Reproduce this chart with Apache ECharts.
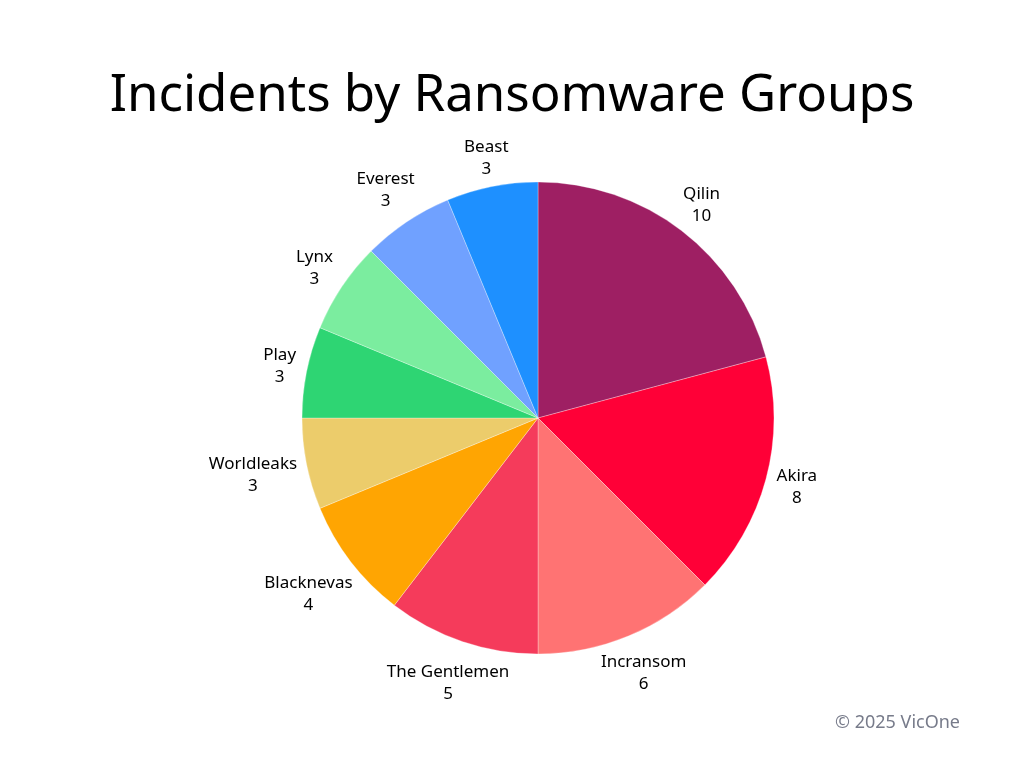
<!DOCTYPE html>
<html>
<head>
<meta charset="utf-8">
<title>Incidents by Ransomware Groups</title>
<script src="https://cdn.jsdelivr.net/npm/echarts@6/dist/echarts.min.js"></script>
<style>
  html, body { margin: 0; background: #fff; }
  #chart { width: 1024px; height: 768px; }
</style>
</head>
<body>
<div id="chart"></div>
<script>
// data
const groups = ['Qilin', 'Akira', 'Incransom', 'The Gentlemen', 'Blacknevas', 'Worldleaks', 'Play', 'Lynx', 'Everest', 'Beast'];
const incidents = [10, 8, 6, 5, 4, 3, 3, 3, 3, 3];
const colors = ['#9E1F63', '#FF0037', '#FF7373', '#F53B5B', '#FFA502', '#ECCC6B', '#2ED573', '#7BED9F', '#70A1FF', '#1E90FF'];

const FONT = '"Noto Sans", sans-serif';
const RADIUS = 236;
const LABEL_GAP = 8;   // gap between slice edge and label box
const FONT_SIZE = 17;
const LINE_H = 22;

// measure label boxes so each one sits just outside its slice (like an "end" anchored label)
const ctx = document.createElement('canvas').getContext('2d');
ctx.font = FONT_SIZE + 'px ' + FONT;
const total = incidents.reduce((a, b) => a + b, 0);

let acc = 0;
const pieData = groups.map((name, i) => {
  const mid = (acc + incidents[i] / 2) / total * Math.PI * 2;
  acc += incidents[i];
  const dx = Math.sin(mid), dy = -Math.cos(mid);
  const w = Math.max(ctx.measureText(name).width, ctx.measureText(String(incidents[i])).width);
  const h = FONT_SIZE * 2;   // glyph box of the two lines
  const dist = RADIUS + LABEL_GAP + (w / 2) * Math.abs(dx) + (h / 2) * Math.abs(dy);
  return {
    name: name,
    value: incidents[i],
    itemStyle: { color: colors[i] },
    label: { offset: [dx * dist, dy * dist] }
  };
});

const chart = echarts.init(document.getElementById('chart'));
chart.setOption({
  animation: false,
  title: [{
    text: 'Incidents by Ransomware Groups',
    left: 'center',
    top: 66,
    textStyle: { fontFamily: FONT, fontSize: 51, fontWeight: 'normal', color: '#000' }
  }, {
    text: '© 2025 VicOne',
    right: 59,
    top: 709,
    textStyle: { fontFamily: FONT, fontSize: 18, fontWeight: 'normal', color: '#777b8a' }
  }],
  series: [{
    type: 'pie',
    center: [538, 418],
    radius: RADIUS,
    startAngle: 90,
    clockwise: true,
    silent: true,
    data: pieData,
    itemStyle: { borderColor: 'rgba(255,255,255,0.6)', borderWidth: 0.5 },
    label: {
      position: 'center',
      formatter: '{b}\n{c}',
      fontFamily: FONT,
      fontSize: FONT_SIZE,
      lineHeight: LINE_H,
      color: '#000'
    },
    labelLine: { show: false }
  }]
});
</script>
</body>
</html>
